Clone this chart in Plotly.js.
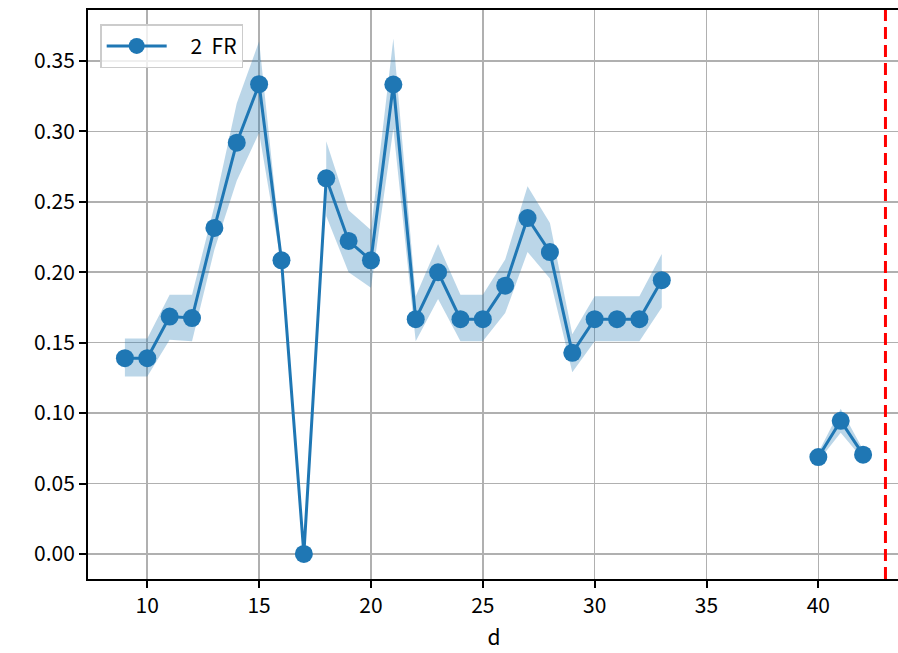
<!DOCTYPE html>
<html>
<head>
<meta charset="utf-8">
<script src="https://cdn.plot.ly/plotly-3.0.1.min.js"></script>
<style>
html,body{margin:0;padding:0;overflow:hidden;background:#fff;}
#chart{width:904px;height:653px;}
</style>
</head>
<body>
<div id="chart"></div>
<script>
const seriesName = "\u00a0\u00a0\u00a0\u00a02\u00a0\u00a0FR";
const dValues = [9,10,11,12,13,14,15,16,17,18,19,20,21,22,23,24,25,26,27,28,29,30,31,32,33,34,35,36,37,38,39,40,41,42];
const frMean = [0.139,0.139,0.1685,0.1675,0.2315,0.292,0.3335,0.2085,0.0,0.2667,0.2222,0.2085,0.3333,0.1667,0.2,0.1667,0.1667,0.1905,0.2385,0.2143,0.1428,0.1667,0.1667,0.1667,0.1944,null,null,null,null,null,null,0.0688,0.0945,0.0705];
const frLower = [0.126,0.126,0.152,0.151,0.216,0.265,0.299,0.205,null,0.240,0.200,0.189,0.302,0.151,0.181,0.151,0.151,0.171,0.2144,0.1955,0.129,0.151,0.151,0.151,0.175,null,null,null,null,null,null,0.066,0.086,0.067];
const frUpper = [0.153,0.153,0.184,0.184,0.247,0.320,0.364,0.213,null,0.293,0.244,0.230,0.366,0.183,0.220,0.184,0.184,0.209,0.261,0.235,0.156,0.183,0.183,0.183,0.213,null,null,null,null,null,null,0.072,0.103,0.074];
const thresholdD = 43;
const xTicks = [10,15,20,25,30,35,40];
const yTicks = [0,0.05,0.1,0.15,0.2,0.25,0.3,0.35];

// build band polygons for contiguous segments
const bandX = [], bandY = [];
let seg = [];
function flush(){
  if(seg.length){
    seg.forEach(i=>{bandX.push(dValues[i]); bandY.push(frUpper[i]);});
    seg.slice().reverse().forEach(i=>{bandX.push(dValues[i]); bandY.push(frLower[i]);});
    bandX.push(null); bandY.push(null);
  }
  seg = [];
}
for(let i=0;i<dValues.length;i++){
  if(frLower[i]===null || frUpper[i]===null){flush();} else seg.push(i);
}
flush();

const blue = '#1f77b4';
const traces = [
  {x: bandX, y: bandY, type:'scatter', mode:'lines', fill:'toself',
   fillcolor:'rgba(31,119,180,0.3)', line:{width:0, color:'rgba(0,0,0,0)'},
   hoverinfo:'skip', showlegend:false, connectgaps:false},
  {x: dValues, y: frMean, type:'scatter', mode:'lines+markers', name: seriesName,
   line:{color: blue, width:3}, marker:{color: blue, size:18}, connectgaps:false}
];

const fontFam = '"Noto Sans CJK JP", "DejaVu Sans", sans-serif';
const layout = {
  width: 904, height: 653,
  margin: {l:88, r:4, t:10, b:74},
  paper_bgcolor:'#fff', plot_bgcolor:'#fff',
  font:{family: fontFam, size:21, color:'#000'},
  showlegend:true,
  legend:{x:0.015, y:0.975, xanchor:'left', yanchor:'top',
    bgcolor:'rgba(255,255,255,0.8)', bordercolor:'#cccccc', borderwidth:1.5,
    font:{family: fontFam, size:21, color:'#000'}, itemwidth:60},
  xaxis:{range:[7.35,43.65], tickvals:xTicks, ticktext:xTicks.map(String),
    showgrid:true, gridcolor:'#b0b0b0', gridwidth:1.6, zeroline:false,
    showline:true, linecolor:'#000', linewidth:2, mirror:true,
    ticks:'outside', ticklen:7, tickwidth:2, tickcolor:'#000',
    tickfont:{family:fontFam, size:21, color:'#000'},
    title:{text:'d', font:{family:fontFam, size:21, color:'#000'}, standoff:12}},
  yaxis:{range:[-0.0178,0.3862], tickvals:yTicks, ticktext:yTicks.map(v=>v.toFixed(2)),
    showgrid:true, gridcolor:'#b0b0b0', gridwidth:1.6, zeroline:false,
    showline:true, linecolor:'#000', linewidth:2, mirror:true,
    ticks:'outside', ticklen:7, tickwidth:2, tickcolor:'#000',
    tickfont:{family:fontFam, size:21, color:'#000'}},
  shapes:[{type:'line', xref:'x', yref:'paper', x0:thresholdD, x1:thresholdD, y0:0, y1:1,
    line:{color:'red', width:3, dash:'12px,6px'}}]
};
Plotly.newPlot('chart', traces, layout, {displayModeBar:false, staticPlot:true});
</script>
</body>
</html>
